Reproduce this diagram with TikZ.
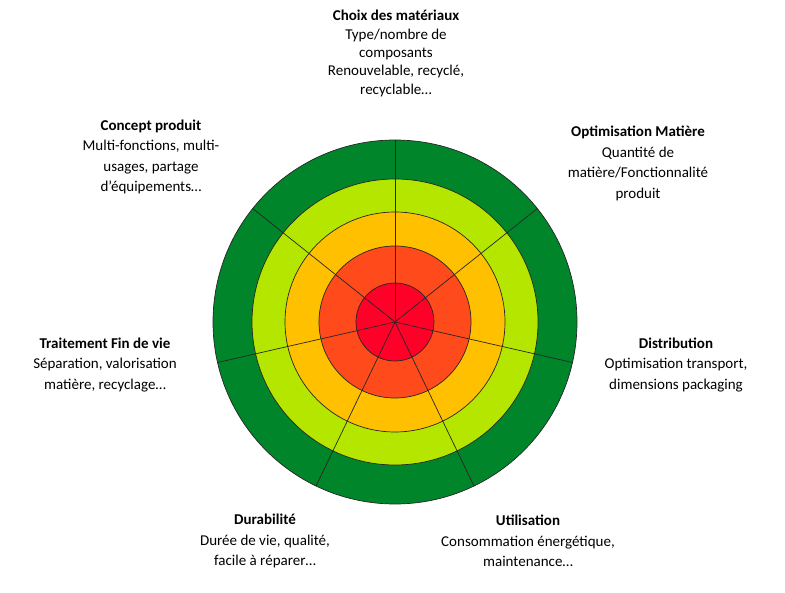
\documentclass[tikz,border=0pt]{standalone}
\usepackage{fontspec}
\setmainfont{Carlito}
\usetikzlibrary{positioning}

\definecolor{ringDark}{HTML}{00852A}
\definecolor{ringLime}{HTML}{B5E600}
\definecolor{ringAmber}{HTML}{FFC000}
\definecolor{ringOrange}{HTML}{FF4A1C}
\definecolor{ringRed}{HTML}{FF0028}

\begin{document}
\begin{tikzpicture}[
    x=0.3mm, y=0.3mm,
    ring/.style={draw=black!85, line width=0.6pt},
    spoke/.style={draw=black!85, line width=0.6pt},
    theme/.style={
        align=center,
        inner sep=0pt,
        font=\fontsize{12.8}{17.4}\selectfont
    }
]
\useasboundingbox (0,0) rectangle (785,592);
\coordinate (centre) at (395,270);

% rings, from the outside in
\fill[ringDark] (centre) circle[radius=182];
\fill[ringLime] (centre) circle[radius=143];
\fill[ringAmber] (centre) circle[radius=110];
\fill[ringOrange] (centre) circle[radius=76];
\fill[ringRed] (centre) circle[radius=39];
\foreach \r in {182,143,110,76,39}
    \draw[ring] (centre) circle[radius=\r];

% seven sectors
\foreach \k in {0,...,6}
    \draw[spoke] (centre) -- ++({90-\k*360/7}:182);

\node[theme, font=\fontsize{12.8}{15.6}\selectfont] (choix) at (396,538.5)
    {\textbf{Choix des matériaux}\\Type/nombre de\\composants\\Renouvelable, recyclé,\\recyclable…};
\node[theme] (optim) at (638,428.5)
    {\textbf{Optimisation Matière}\\Quantité de\\matière/Fonctionnalité\\produit};
\node[theme] (distrib) at (676,227)
    {\textbf{Distribution}\\Optimisation transport,\\dimensions packaging};
\node[theme] (usage) at (528,51)
    {\textbf{Utilisation}\\Consommation énergétique,\\maintenance…};
\node[theme] (durab) at (265,51)
    {\textbf{Durabilité}\\Durée de vie, qualité,\\facile à réparer…};
\node[theme] (finvie) at (105,227)
    {\textbf{Traitement Fin de vie}\\Séparation, valorisation\\matière, recyclage…};
\node[theme] (concept) at (151,435)
    {\textbf{Concept produit}\\Multi-fonctions, multi-\\usages, partage\\d’équipements…};
\end{tikzpicture}
\end{document}
